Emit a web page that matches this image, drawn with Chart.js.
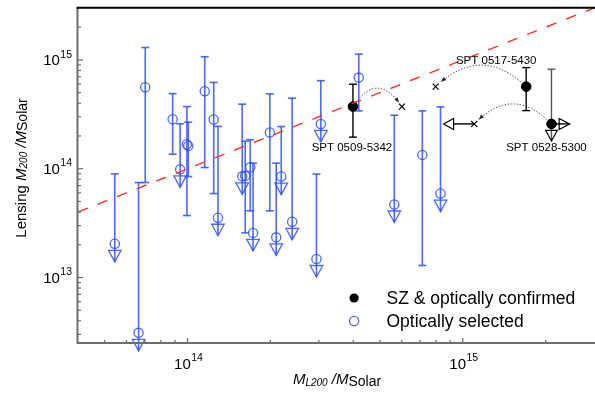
<!DOCTYPE html>
<html>
<head>
<meta charset="utf-8">
<script src="https://cdn.jsdelivr.net/npm/chart.js@4.4.1/dist/chart.umd.min.js"></script>
<style>
html, body { margin: 0; padding: 0; background: #fff; overflow: hidden; }
</style>
</head>
<body>
<canvas id="massChart" width="600" height="394"></canvas>
<script>
// Optically selected clusters (lo = null -> upper limit, drawn with an arrow)
const blueX  = [5.44e13, 6.64e13, 7.02e13, 8.83e13, 9.40e13, 9.95e13, 1.006e14, 1.155e14, 1.245e14, 1.29e14, 1.58e14, 1.62e14,
                1.69e14, 1.73e14, 1.99e14, 2.19e14, 2.10e14, 2.40e14, 2.94e14, 3.05e14, 4.19e14, 5.64e14, 7.13e14, 8.30e14];
const blueY  = [2.04e13, 3.10e12, 5.61e14, 2.85e14, 9.86e13, 1.68e14, 1.62e14, 5.16e14, 2.83e14, 3.54e13, 8.51e13, 8.60e13,
                1.03e14, 2.57e13, 2.15e14, 8.47e13, 2.34e13, 3.25e13, 1.48e13, 2.58e14, 6.88e14, 4.69e13, 1.34e14, 5.91e13];
const blueHi = [8.97e13, 7.46e13, 1.30e15, 4.90e14, 2.59e14, 3.72e14, 2.68e14, 1.07e15, 6.21e14, 2.45e14, 3.92e14, 1.79e14,
                1.85e14, 1.125e14, 4.87e14, 2.44e14, 1.125e14, 4.45e14, 8.93e13, 6.45e14, 1.13e15, 3.10e14, 3.40e14, 3.70e14];
const blueLo = [null, null, 7.46e13, 1.36e14, null, 3.71e13, 8.47e13, 1.025e14, 5.91e13, null, null, 2.57e13,
                4.10e13, null, 4.10e13, null, null, null, null, null, 3.40e14, null, 1.29e13, null];

// SZ & optically confirmed clusters
const szNames = ['SPT 0509-5342', 'SPT 0517-5430', 'SPT 0528-5300'];
const szX  = [3.99e14, 1.70e15, 2.10e15];
const szY  = [3.72e14, 5.68e14, 2.58e14];
const szHi = [5.98e14, 8.50e14, 8.21e14];
const szLo = [1.95e14, 3.42e14, null];
const szXLowerLimit = [false, false, true];

// optical richness masses of the same SZ clusters (crosses)
const crossX   = [6.01e14, 7.97e14, 1.10e15];
const crossXLo = [null, null, 9.26e14];

// one-to-one line
const refLine = [4e13, 3e15];

const xMajor = [1e14, 1e15];
const yMajor = [1e13, 1e14, 1e15];

const blue = 'rgba(45, 80, 255, 0.85)';
const axisGray = '#6e6e6e';
const FONT = '"Liberation Sans", Arial, Helvetica, sans-serif';

function cap(ctx, x, y, w) {
    ctx.beginPath(); ctx.moveTo(x - w, y); ctx.lineTo(x + w, y); ctx.stroke();
}
function vline(ctx, x, y1, y2) {
    ctx.beginPath(); ctx.moveTo(x, y1); ctx.lineTo(x, y2); ctx.stroke();
}
function downTri(ctx, x, yTop, hw, h) {
    ctx.beginPath(); ctx.moveTo(x - hw, yTop); ctx.lineTo(x + hw, yTop); ctx.lineTo(x, yTop + h); ctx.closePath(); ctx.stroke();
}
function sideTri(ctx, xBase, y, dir, hw, len) {
    ctx.beginPath(); ctx.moveTo(xBase, y - hw); ctx.lineTo(xBase, y + hw); ctx.lineTo(xBase + dir * len, y); ctx.closePath(); ctx.stroke();
}

const errorBars = {
    id: 'errorBars',
    beforeDatasetsDraw(chart) {
        const {ctx, scales: {x, y}} = chart;
        ctx.save();
        ctx.lineWidth = 1.6;
        ctx.strokeStyle = blue;
        blueX.forEach((v, i) => {
            const px = x.getPixelForValue(v), py = y.getPixelForValue(blueY[i]);
            const top = y.getPixelForValue(blueHi[i]);
            if (blueLo[i] !== null) {
                const bot = y.getPixelForValue(blueLo[i]);
                vline(ctx, px, top, bot); cap(ctx, px, top, 4); cap(ctx, px, bot, 4);
            } else {
                vline(ctx, px, top, py + 18); cap(ctx, px, top, 4);
                ctx.lineWidth = 1.3;
                downTri(ctx, px, py + 6.5, 6.3, 11.5);
                ctx.lineWidth = 1.6;
            }
        });

        ctx.lineWidth = 1.4;
        szX.forEach((v, i) => {
            const px = x.getPixelForValue(v), py = y.getPixelForValue(szY[i]);
            const top = y.getPixelForValue(szHi[i]);
            if (szLo[i] !== null) {
                ctx.strokeStyle = '#000';
                const bot = y.getPixelForValue(szLo[i]);
                vline(ctx, px, top, bot); cap(ctx, px, top, 4); cap(ctx, px, bot, 4);
            } else {
                ctx.strokeStyle = '#555';
                vline(ctx, px, top, py + 17); cap(ctx, px, top, 4);
                ctx.strokeStyle = '#000';
                ctx.lineWidth = 1.2;
                downTri(ctx, px, py + 6.5, 5.8, 10.5);
                ctx.lineWidth = 1.4;
            }
            if (szXLowerLimit[i]) {
                ctx.strokeStyle = '#000';
                ctx.beginPath(); ctx.moveTo(px, py); ctx.lineTo(px + 18, py); ctx.stroke();
                ctx.lineWidth = 1.2;
                sideTri(ctx, px + 7.7, py, 1, 5.5, 10.5);
                ctx.lineWidth = 1.4;
            }
        });

        ctx.strokeStyle = '#000';
        crossX.forEach((v, i) => {
            if (crossXLo[i] === null) return;
            const px = x.getPixelForValue(v), py = y.getPixelForValue(szY[i]);
            const lo = x.getPixelForValue(crossXLo[i]);
            ctx.beginPath(); ctx.moveTo(px, py); ctx.lineTo(lo, py); ctx.stroke();
            ctx.lineWidth = 1.2;
            sideTri(ctx, lo, py, -1, 5.5, 10);
            ctx.lineWidth = 1.4;
        });
        ctx.restore();
    },
    afterDatasetsDraw(chart) {
        const {ctx, scales: {x, y}} = chart;
        const lift = [37, 43, 40];
        ctx.save();
        szX.forEach((v, i) => {
            const p0 = {x: x.getPixelForValue(v), y: y.getPixelForValue(szY[i])};
            const p2 = {x: x.getPixelForValue(crossX[i]), y: y.getPixelForValue(szY[i])};
            const c = {x: (p0.x + p2.x) / 2, y: p0.y - lift[i]};
            const pt = t => {
                const u = 1 - t;
                return {x: u * u * p0.x + 2 * u * t * c.x + t * t * p2.x, y: u * u * p0.y + 2 * u * t * c.y + t * t * p2.y};
            };
            ctx.strokeStyle = '#555';
            ctx.lineWidth = 1;
            ctx.setLineDash([1.5, 1.5]);
            ctx.beginPath();
            for (let k = 0; k <= 40; k++) {
                const p = pt(0.06 + (0.94 - 0.06) * k / 40);
                if (k === 0) ctx.moveTo(p.x, p.y); else ctx.lineTo(p.x, p.y);
            }
            ctx.stroke();
            ctx.setLineDash([]);
            // arrow head
            const t = 0.94, e = pt(t);
            const dx = 2 * (1 - t) * (c.x - p0.x) + 2 * t * (p2.x - c.x);
            const dy = 2 * (1 - t) * (c.y - p0.y) + 2 * t * (p2.y - c.y);
            const a = Math.atan2(dy, dx);
            ctx.fillStyle = '#222';
            ctx.beginPath();
            ctx.moveTo(e.x, e.y);
            ctx.lineTo(e.x - 5 * Math.cos(a) + 2 * Math.sin(a), e.y - 5 * Math.sin(a) - 2 * Math.cos(a));
            ctx.lineTo(e.x - 5 * Math.cos(a) - 2 * Math.sin(a), e.y - 5 * Math.sin(a) + 2 * Math.cos(a));
            ctx.closePath(); ctx.fill();
        });
        ctx.restore();
    }
};

// draws "10" with a superscript exponent
function drawPow(ctx, exp, ax, mid, align) {
    ctx.font = '15px ' + FONT;
    const wb = ctx.measureText('10').width;
    ctx.font = '10.5px ' + FONT;
    const we = ctx.measureText(exp).width;
    const total = wb + 0.5 + we;
    const left = align === 'right' ? ax - total : ax - total / 2;
    ctx.textAlign = 'left';
    ctx.textBaseline = 'alphabetic';
    ctx.font = '15px ' + FONT;
    ctx.fillText('10', left, mid + 5.4);
    ctx.font = '10.5px ' + FONT;
    ctx.fillText(exp, left + wb + 0.5, mid - 2.3);
}

// draws a row of pieces with own fonts / vertical shifts
function drawPieces(ctx, pieces, cx, base) {
    let total = 0;
    pieces.forEach(p => { ctx.font = p[1]; total += ctx.measureText(p[0]).width; });
    let xx = cx - total / 2;
    ctx.textAlign = 'left';
    ctx.textBaseline = 'alphabetic';
    pieces.forEach(p => {
        ctx.font = p[1];
        ctx.fillText(p[0], xx, base + p[2]);
        xx += ctx.measureText(p[0]).width;
    });
}

const axesDecor = {
    id: 'axesDecor',
    afterDraw(chart) {
        const {ctx, chartArea: area, scales: {x, y}} = chart;
        ctx.save();
        // axis lines
        ctx.lineWidth = 2;
        ctx.strokeStyle = axisGray;
        ctx.beginPath();
        ctx.moveTo(area.left - 0.5, area.top);
        ctx.lineTo(area.left - 0.5, area.bottom);
        ctx.lineTo(area.right + 5, area.bottom);
        ctx.stroke();
        ctx.strokeStyle = '#000';
        ctx.beginPath();
        ctx.moveTo(area.left - 1.5, area.top - 0.2);
        ctx.lineTo(area.right + 5, area.top - 0.2);
        ctx.stroke();

        // ticks pointing inwards
        ctx.strokeStyle = axisGray;
        ctx.lineWidth = 1.2;
        for (let e = 12; e <= 15; e++) {
            for (let m = 1; m <= 9; m++) {
                const v = m * Math.pow(10, e);
                const len = m === 1 ? 5 : 3;
                if (v > x.min && v < x.max) {
                    const px = x.getPixelForValue(v);
                    ctx.beginPath(); ctx.moveTo(px, area.bottom); ctx.lineTo(px, area.bottom - len); ctx.stroke();
                }
                if (v > y.min && v < y.max) {
                    const py = y.getPixelForValue(v);
                    ctx.beginPath(); ctx.moveTo(area.left, py); ctx.lineTo(area.left + len, py); ctx.stroke();
                }
            }
        }

        // tick labels
        ctx.fillStyle = '#000';
        xMajor.forEach(v => drawPow(ctx, String(Math.round(Math.log10(v))), x.getPixelForValue(v) + 1, area.bottom + 20.5, 'center'));
        yMajor.forEach(v => drawPow(ctx, String(Math.round(Math.log10(v))), area.left - 6, y.getPixelForValue(v), 'right'));

        // axis titles
        drawPieces(ctx, [
            ['M', 'italic 15px ' + FONT, 0],
            ['L200', 'italic 10px ' + FONT, 1.5],
            [' /M', 'italic 15px ' + FONT, 0],
            ['Solar', '14px ' + FONT, 1.5]
        ], (area.left + area.right) / 2 + 1, area.bottom + 41);

        ctx.save();
        ctx.translate(25.5, 168);
        ctx.rotate(-Math.PI / 2);
        drawPieces(ctx, [
            ['Lensing ', '15px ' + FONT, 0],
            ['M', 'italic 15px ' + FONT, 0],
            ['200', 'italic 10px ' + FONT, 1.5],
            [' /M', 'italic 15px ' + FONT, 0],
            ['Solar', '14px ' + FONT, 1.5]
        ], 0, 0);
        ctx.restore();

        // cluster names
        const offs = [[-1, 41], [-30, -26], [-5, 23.5]];
        ctx.font = '11.5px ' + FONT;
        ctx.textAlign = 'center';
        ctx.textBaseline = 'middle';
        szNames.forEach((n, i) => {
            ctx.fillText(n, x.getPixelForValue(szX[i]) + offs[i][0], y.getPixelForValue(szY[i]) + offs[i][1]);
        });

        // legend
        const lx = area.right - 240, ly = area.bottom - 45;
        ctx.fillStyle = '#000';
        ctx.beginPath(); ctx.arc(lx, ly, 4.6, 0, Math.PI * 2); ctx.fill();
        ctx.strokeStyle = blue; ctx.lineWidth = 1.3;
        ctx.beginPath(); ctx.arc(lx, ly + 23, 4.6, 0, Math.PI * 2); ctx.stroke();
        ctx.font = '17.5px ' + FONT;
        ctx.textAlign = 'left';
        ctx.textBaseline = 'alphabetic';
        ctx.fillText(chart.data.datasets[1].label, lx + 32.4, ly + 6.3);
        ctx.fillText(chart.data.datasets[2].label, lx + 32.4, ly + 29.3);
        ctx.restore();
    }
};

const ctx = document.getElementById('massChart').getContext('2d');
const massChart = new Chart(ctx, {
    type: 'scatter',
    data: {
        datasets: [
            {
                type: 'line',
                label: '1:1',
                data: refLine.map(v => ({x: v, y: v})),
                borderColor: '#ff3322',
                borderWidth: 1.4,
                borderDash: [10.5, 10.5],
                pointRadius: 0,
                showLine: true,
                fill: false
            },
            {
                label: 'SZ & optically confirmed',
                data: szX.map((v, i) => ({x: v, y: szY[i]})),
                pointStyle: 'circle',
                pointRadius: 4.8,
                backgroundColor: '#000',
                borderColor: '#000',
                borderWidth: 1
            },
            {
                label: 'Optically selected',
                data: blueX.map((v, i) => ({x: v, y: blueY[i]})),
                pointStyle: 'circle',
                pointRadius: 4.6,
                backgroundColor: 'rgba(0,0,0,0)',
                borderColor: blue,
                borderWidth: 1.3
            },
            {
                label: 'optical mass',
                data: crossX.map((v, i) => ({x: v, y: szY[i]})),
                pointStyle: 'crossRot',
                pointRadius: 4.2,
                borderColor: '#000',
                borderWidth: 1.2
            }
        ]
    },
    options: {
        responsive: false,
        animation: false,
        devicePixelRatio: 1,
        layout: { padding: { top: 8, right: 2, left: 0, bottom: 0 } },
        plugins: {
            legend: { display: false },
            tooltip: { enabled: false }
        },
        scales: {
            x: {
                type: 'logarithmic',
                min: 4e13,
                max: 3e15,
                ticks: { display: false },
                grid: { display: false },
                border: { display: false },
                afterFit: s => { s.height = 51; }
            },
            y: {
                type: 'logarithmic',
                min: 2.5e12,
                max: 3e15,
                ticks: { display: false },
                grid: { display: false },
                border: { display: false },
                afterFit: s => { s.width = 78; }
            }
        }
    },
    plugins: [errorBars, axesDecor]
});
</script>
</body>
</html>
